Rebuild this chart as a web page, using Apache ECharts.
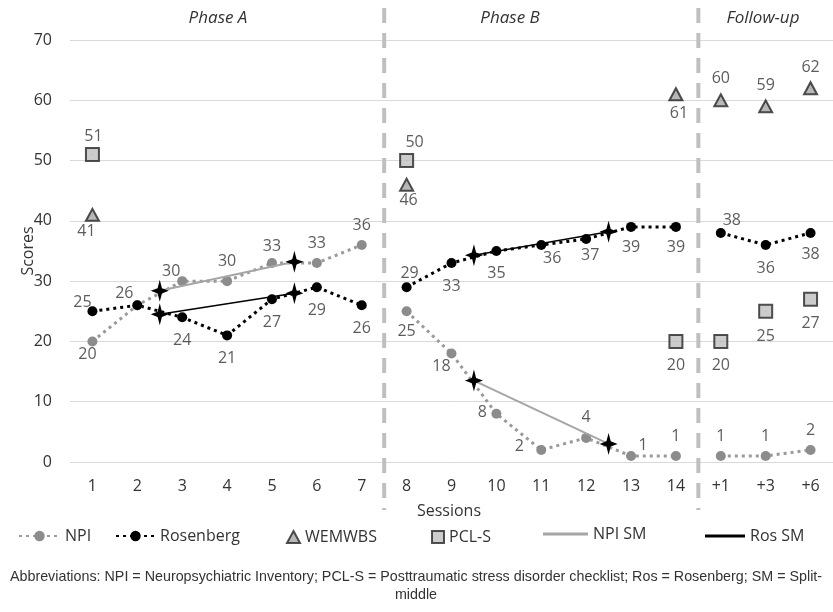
<!DOCTYPE html>
<html>
<head>
<meta charset="utf-8">
<script src="https://cdn.jsdelivr.net/npm/echarts@6/dist/echarts.min.js"></script>
<style>
html,body{margin:0;padding:0;background:#fff;}
#chart{width:833px;height:612px;}
</style>
</head>
<body>
<div id="chart"></div>
<script>
// ---- data ----
const categories = ['1','2','3','4','5','6','7','8','9','10','11','12','13','14','+1','+3','+6'];
const npiScores = [20,26,30,30,33,33,36, 25,18,8,2,4,1,1, 1,1,2];
const rosenbergScores = [25,26,24,21,27,29,26, 29,33,35,36,37,39,39, 38,36,38];
const wemwbsScores = [41,null,null,null,null,null,null, 46,null,null,null,null,null,61, 60,59,62];
const pclsScores = [51,null,null,null,null,null,null, 50,null,null,null,null,null,20, 20,25,27];
const phaseRanges = [[0,6],[7,13],[14,16]];
const phaseNames = ['Phase A','Phase B','Follow-up'];
const phaseDividers = [6.5, 13.5];
const npiSplitMiddle = [[[1.5,28.4],[4.5,33.2]], [[8.5,13.5],[11.5,3]]];
const rosSplitMiddle = [[[1.5,24.5],[4.5,28.0]], [[8.5,34.3],[11.5,38.2]]];
const yTicks = {min:0, max:70, interval:10};

// ---- label placement (offsets from the point, px) ----
const npiLabelOffsets = [[-5,13],[-13,-12],[-11,-10],[0,-20],[0,-17],[0,-20],[0,-20],
  [0,20],[-10,13],[-14,-1],[-22,-4],[0,-20],[12,-11],[0,-20],[0,-20],[0,-20],[0,-20]];
const rosLabelOffsets = [[-10,-9],null,[0,23],[0,23],[0,23],[0,23],[0,23],
  [3,-14],[0,23],[0,22],[11,13],[4,16],[0,21],[0,21],[11,-12],[0,23],[0,22]];
const wemLabelOffsets = [[-6,17],null,null,null,null,null,null,[2,16],null,null,null,null,null,[3,19],[0,-22],[0,-21],[0,-21]];
const pclLabelOffsets = [[1,-18],null,null,null,null,null,null,[8,-18],null,null,null,null,null,[0,24],[0,24],[0,25],[0,24]];

const FONT = '"Open Sans", "Liberation Sans", sans-serif';
const TXT = '#333333';

function plainData(values, range){
  return values.map((v,i)=> (v === null || (range && (i < range[0] || i > range[1]))) ? null : v);
}
function labelData(values, offsets){
  return values.map((v,i)=>{
    if (v === null || !offsets[i]) return null;
    return {value:v, label:{show:true, offset:offsets[i]}};
  });
}
// invisible carrier series for value labels, so labels keep a dark text colour
function labelSeries(name, values, offsets){
  return {
    name:name, type:'scatter', data: labelData(values, offsets),
    symbol:'circle', symbolSize:1, color:TXT, itemStyle:{color:TXT}, z:2, silent:true,
    label:{show:false, position:['50%','50%'], align:'center', verticalAlign:'middle',
      color:TXT, fontSize:16, fontFamily:FONT}
  };
}

const star = 'path://M0,-10 L2.4,-2.4 L10,0 L2.4,2.4 L0,10 L-2.4,2.4 L-10,0 L-2.4,-2.4 Z';

const series = [];
phaseRanges.forEach(r=>{
  series.push({
    name:'NPI', type:'line', data: plainData(npiScores, r),
    symbol:'circle', symbolSize:10, color:'#8c8c8c',
    itemStyle:{color:'#8c8c8c'},
    lineStyle:{color:'#9a9a9a', width:3, type:[3,4]}, z:3
  });
});
phaseRanges.forEach(r=>{
  series.push({
    name:'Rosenberg', type:'line', data: plainData(rosenbergScores, r),
    symbol:'circle', symbolSize:10, color:'#000',
    itemStyle:{color:'#000'},
    lineStyle:{color:'#000', width:3, type:[3,4]}, z:3
  });
});
series.push({
  name:'WEMWBS', type:'scatter', data: plainData(wemwbsScores, null),
  symbol:'triangle', symbolSize:[13,12],
  itemStyle:{color:'#a6a6a6', borderColor:'#262626', borderWidth:2}, z:4
});
series.push({
  name:'PCL-S', type:'scatter', data: plainData(pclsScores, null),
  symbol:'rect', symbolSize:13,
  itemStyle:{color:'#bfbfbf', borderColor:'#262626', borderWidth:2}, z:4
});
npiSplitMiddle.forEach(seg=>{
  series.push({
    name:'NPI SM', type:'line', xAxisIndex:1, data: seg,
    symbol: star, symbolSize:[18,22], color:'#a6a6a6',
    itemStyle:{color:'#000'}, lineStyle:{color:'#a6a6a6', width:2}, z:5
  });
});
rosSplitMiddle.forEach(seg=>{
  series.push({
    name:'Ros SM', type:'line', xAxisIndex:1, data: seg,
    symbol: star, symbolSize:[18,22], color:'#000',
    itemStyle:{color:'#000'}, lineStyle:{color:'#000', width:1.5}, z:5
  });
});
series.push(labelSeries('NPI values', npiScores, npiLabelOffsets));
series.push(labelSeries('Rosenberg values', rosenbergScores, rosLabelOffsets));
series.push(labelSeries('WEMWBS values', wemwbsScores, wemLabelOffsets));
series.push(labelSeries('PCL-S values', pclsScores, pclLabelOffsets));

const legendText = {color:TXT, fontSize:16, fontFamily:FONT};
function lg(name, left, top, w, h, gap, extra){
  return Object.assign({data:[name], left:left, top:top, itemWidth:w, itemHeight:h,
    itemTextGap:gap, padding:0, textStyle:legendText, selectedMode:false}, extra||{});
}

const chart = echarts.init(document.getElementById('chart'), null, {renderer:'canvas'});
chart.setOption({
  animation:false,
  backgroundColor:'#fff',
  grid:{left:70, width:770, top:40, bottom:150, containLabel:false},
  xAxis:[{
    type:'category', data:categories, boundaryGap:true,
    axisLine:{show:false}, axisTick:{show:false},
    axisLabel:{color:TXT, fontSize:16, fontFamily:FONT, margin:16}
  },{
    type:'value', min:-0.5, max:16.5, show:false, splitLine:{show:false}
  }],
  yAxis:{
    type:'value', min:yTicks.min, max:yTicks.max, interval:yTicks.interval,
    axisLine:{show:false}, axisTick:{show:false},
    axisLabel:{color:TXT, fontSize:16, fontFamily:FONT, margin:18},
    splitLine:{lineStyle:{color:'#d9d9d9', width:1}},
    name:'Scores', nameLocation:'middle', nameGap:34, nameMoveOverlap:false,
    nameTextStyle:{color:TXT, fontSize:16, fontFamily:FONT}
  },
  legend:[
    lg('NPI', 18, 528, 41, 13, 6),
    lg('Rosenberg', 115, 528, 39, 13, 8),
    lg('WEMWBS', 286, 529, 13, 12, 14),
    lg('PCL-S', 431, 529, 12, 12, 17),
    lg({name:'NPI SM', icon:'rect', itemStyle:{color:'#a6a6a6', borderWidth:0}}, 543, 526, 45, 3, 20),
    lg({name:'Ros SM', icon:'rect', itemStyle:{color:'#000', borderWidth:0}}, 705, 528, 40, 3, 27)
  ],
  series: series
});

// phase dividers and titles positioned through the axis scale
const topY = 8, botY = 510;
const graphics = [];
phaseDividers.forEach(v=>{
  const x = chart.convertToPixel({xAxisIndex:1}, v);
  graphics.push({type:'line', shape:{x1:x, y1:topY, x2:x, y2:botY}, z:1,
    style:{stroke:'#bfbfbf', lineWidth:4, lineDash:[15,10]}});
});
const phaseLabelX = [218, 510, 763];
phaseNames.forEach((n,i)=>{
  graphics.push({type:'text', x:phaseLabelX[i], y:18, z:10,
    style:{text:n, font:'italic 17px ' + FONT, fill:TXT, align:'center', verticalAlign:'middle'}});
});
graphics.push({type:'text', x:449, y:511, style:{text:'Sessions',
  font:'16px ' + FONT, fill:TXT, align:'center', verticalAlign:'middle'}});
graphics.push({type:'text', x:416, y:577, style:{text:'Abbreviations: NPI = Neuropsychiatric Inventory; PCL-S = Posttraumatic stress disorder checklist; Ros = Rosenberg; SM = Split-',
  font:'14.3px "Liberation Sans", sans-serif', fill:'#333', align:'center', verticalAlign:'middle'}});
graphics.push({type:'text', x:416, y:595, style:{text:'middle',
  font:'14.3px "Liberation Sans", sans-serif', fill:'#333', align:'center', verticalAlign:'middle'}});
chart.setOption({graphic: graphics});
</script>
</body>
</html>
